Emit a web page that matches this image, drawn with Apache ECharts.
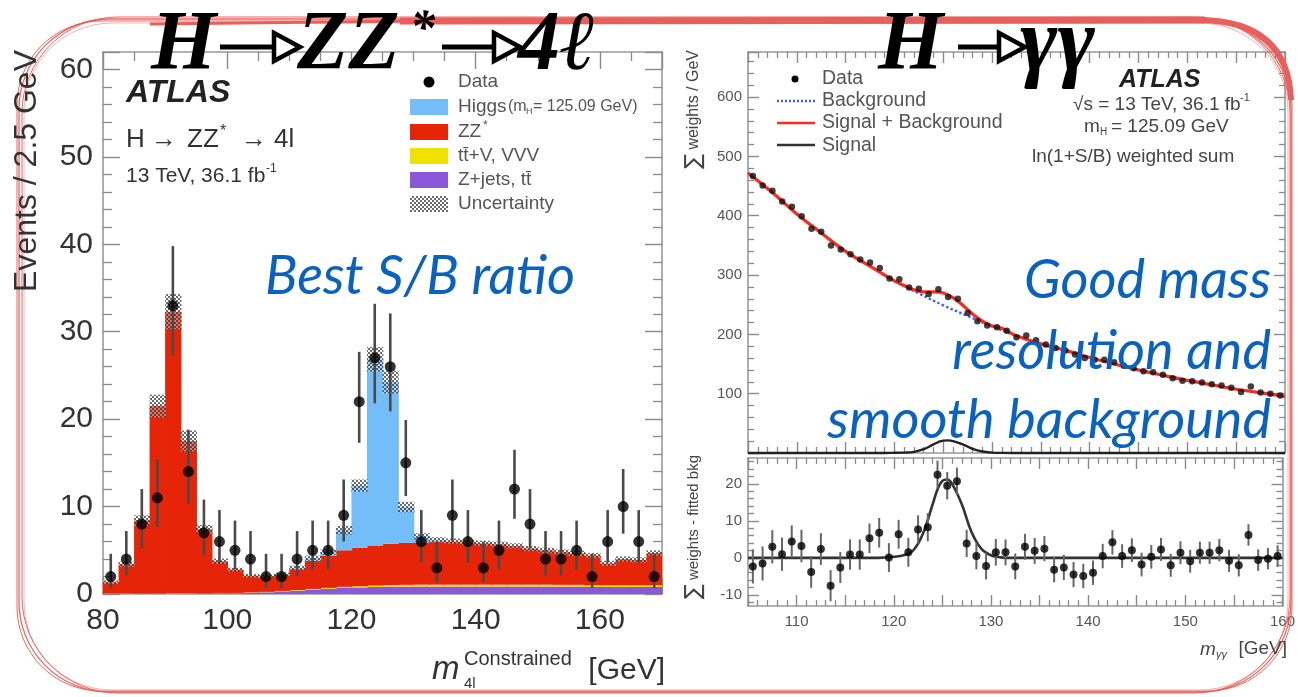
<!DOCTYPE html>
<html><head><meta charset="utf-8">
<script src="https://cdn.jsdelivr.net/npm/echarts/dist/echarts.min.js"></script>
<style>html,body{margin:0;padding:0;background:#fff;}#c{width:1298px;height:697px;}</style>
</head><body><div id="c"></div>
<script>
// ---------- H -> ZZ* -> 4l (left) ----------
const binEdges4l = [80,82.5,85,87.5,90,92.5,95,97.5,100,102.5,105,107.5,110,112.5,115,117.5,120,122.5,125,127.5,130,132.5,135,137.5,140,142.5,145,147.5,150,152.5,155,157.5,160,162.5,165,167.5,170];
const data4l  = [2,4,8,11,33,14,7,6,5,4,2,2,4,5,5,9,22,27,26,15,6,3,9,6,3,5,12,8,4,4,5,2,6,10,6,2];
const errLo4l = [1.3,1.9,2.8,3.3,5.7,3.7,2.6,2.4,2.2,1.9,1.3,1.3,1.9,2.2,2.2,3.0,4.7,5.2,5.1,3.8,2.4,1.6,3.0,2.4,1.6,2.2,3.4,2.8,1.9,1.9,2.2,1.3,2.4,3.1,2.4,1.3];
const errHi4l = [2.6,3.2,4.0,4.4,6.8,4.8,3.8,3.6,3.4,3.2,2.6,2.6,3.2,3.4,3.4,4.1,5.7,6.2,6.1,4.9,3.6,3.0,4.1,3.6,3.0,3.4,4.5,4.0,3.2,3.2,3.4,2.6,3.6,4.3,3.6,2.6];
const zjets4l = [0.05,0.05,0.05,0.05,0.05,0.05,0.05,0.1,0.1,0.15,0.2,0.3,0.4,0.5,0.6,0.7,0.75,0.8,0.85,0.85,0.85,0.85,0.85,0.85,0.85,0.85,0.85,0.85,0.85,0.85,0.85,0.8,0.8,0.8,0.8,0.8];
const ttv4l   = [0.02,0.02,0.02,0.02,0.05,0.03,0.02,0.02,0.02,0.03,0.04,0.05,0.06,0.08,0.1,0.12,0.14,0.16,0.18,0.2,0.22,0.22,0.22,0.22,0.22,0.22,0.22,0.22,0.22,0.2,0.2,0.2,0.2,0.2,0.2,0.2];
const zz4l    = [1.28,3.33,8.33,21.43,32.2,17.42,7.33,3.63,2.68,1.92,1.76,1.85,2.44,3.22,3.7,4.18,4.41,4.59,4.72,4.8,4.83,4.93,4.93,4.83,4.73,4.63,4.43,4.13,3.93,3.75,3.6,3.4,2.5,3.0,2.9,3.7];
const higgs4l = [0,0,0,0,0,0,0,0,0,0,0,0.05,0.1,0.3,0.4,2.3,7.1,21.3,18.5,4.1,0.7,0.2,0.05,0,0,0,0,0,0,0,0,0,0,0,0,0];
const unc4l   = [0.2,0.3,0.6,1.3,2.0,1.2,0.5,0.3,0.2,0.2,0.2,0.2,0.25,0.3,0.3,0.5,0.7,1.4,1.3,0.6,0.35,0.3,0.3,0.3,0.3,0.3,0.3,0.3,0.3,0.3,0.3,0.3,0.3,0.3,0.3,0.3];
const xTicks4l = [80,100,120,140,160];
const yTicks4l = [0,10,20,30,40,50,60];

// ---------- H -> gamma gamma (right) ----------
const mgg = [105.5,106.5,107.5,108.5,109.5,110.5,111.5,112.5,113.5,114.5,115.5,116.5,117.5,118.5,119.5,120.5,121.5,122.5,123.5,124.5,125.5,126.5,127.5,128.5,129.5,130.5,131.5,132.5,133.5,134.5,135.5,136.5,137.5,138.5,139.5,140.5,141.5,142.5,143.5,144.5,145.5,146.5,147.5,148.5,149.5,150.5,151.5,152.5,153.5,154.5,155.5,156.5,157.5,158.5,159.5];
const sumw = [467,451,442,424,415,399,378,373,350,343,335,326,321,312,294,293,279,277,268,276,263,260,236,222,215,212,206,195,198,190,183,177,173,166,160,157,157,153,147,143,138,136,132,126,122,121,119,116,114,110,103,112,102,100,97];
const resid = [-2.3,-1.5,3.0,1.0,4.4,3.2,-3.8,2.4,-7.5,-2.6,0.9,0.9,5.3,6.8,0.1,6.4,1.5,7.7,8.3,22.5,19.5,20.7,3.9,0.5,-2.2,1.5,1.5,-2.3,3.0,1.9,2.5,-3.2,-2.6,-4.5,-4.9,-4.0,0.5,4.2,0.5,2.1,-1.8,0.3,2.3,-2.0,1.4,-0.9,1.4,1.4,2.1,-0.8,-2.0,6.2,-0.6,-0.2,0.5];
const residErr = [4.6,4.6,4.5,4.5,4.4,4.4,4.3,4.3,4.2,4.2,4.1,4.1,4.0,4.0,3.9,3.9,3.9,3.8,3.8,3.8,3.7,3.7,3.7,3.6,3.6,3.6,3.5,3.5,3.5,3.5,3.4,3.4,3.4,3.4,3.3,3.3,3.3,3.3,3.2,3.2,3.2,3.2,3.1,3.1,3.1,3.1,3.0,3.0,3.0,3.0,3.0,2.9,2.9,2.9,2.9];
const bkgX = [105,107.5,110,112.5,115,117.5,120,122.5,125,127.5,130,132.5,135,137.5,140,142.5,145,147.5,150,152.5,155,157.5,160];
const bkgY = [472,439,403,371,340,315,290,269,249,231,213.5,197.5,184,173,161,150,140,131,122.5,115,107.5,101.5,95.5];
const sbX = [105,107.5,110,112.5,115,117.5,120,121,122,123,124,125,126,127,128,129,130,131,132.5,135,137.5,140,142.5,145,147.5,150,152.5,155,157.5,160];
const sbY = [472,439,403,371,340,315,290.3,282.3,275.2,271.6,271.5,269.8,261.8,249.1,234.3,222.5,214.2,210.4,197.5,184,173,161,150,140,131,122.5,115,107.5,101.5,95.5];
const sigX = [105,118,119,120,121,122,123,124,124.5,125,125.5,126,127,128,129,130,131,132,160];
const sigY = [0,0,0.1,0.3,0.7,2.0,6.5,14.5,18.5,20.8,21.2,20,14.5,7,2.5,0.7,0.15,0,0];
const yLabelsLow = [-10,0,10,20];
const yMinorLow = [-12,-8,-6,-4,-2,2,4,6,8,12,14,16,18,22,24,26];

// ---------- build tables ----------
const hatchCanvas = document.createElement('canvas');
hatchCanvas.width = 4; hatchCanvas.height = 4;
(function(){const g=hatchCanvas.getContext('2d');g.fillStyle='rgba(70,70,70,0.8)';g.fillRect(0,0,2,2);g.fillRect(2,2,2,2);g.fillStyle='rgba(255,255,255,0.35)';g.fillRect(2,0,2,2);g.fillRect(0,2,2,2);})();
const hatch = {image: hatchCanvas, repeat: 'repeat'};

const comps = [zjets4l, ttv4l, zz4l, higgs4l];
const compColors = ['#8a58d8','#efe200','#e62408','#73bdf8'];
const stacks = comps.map(()=>[]);
const uncRows = [], ptRows = [], errRows = [];
for (let i=0;i<data4l.length;i++){
  let base=0;
  comps.forEach((c,k)=>{ stacks[k].push([binEdges4l[i], binEdges4l[i+1], base, base+c[i]]); base+=c[i]; });
  uncRows.push([binEdges4l[i], binEdges4l[i+1], base-unc4l[i], base+unc4l[i]]);
  const xc=(binEdges4l[i]+binEdges4l[i+1])/2;
  ptRows.push([xc, data4l[i]]);
  errRows.push([xc, data4l[i]-errLo4l[i], data4l[i]+errHi4l[i]]);
}
const ggPts = mgg.map((m,i)=>[m,sumw[i]]);
const resPts = mgg.map((m,i)=>[m,resid[i]]);
const resErr = mgg.map((m,i)=>[m,resid[i]-residErr[i],resid[i]+residErr[i]]);
const bkgLine = bkgX.map((x,i)=>[x,bkgY[i]]);
const sbLine = sbX.map((x,i)=>[x,sbY[i]]);
const sigLine = sigX.map((x,i)=>[x,sigY[i]]);

function rectRender(fill){
  return function(params, api){
    const x0=api.value(0), x1=api.value(1), b=api.value(2), t=api.value(3);
    if(!(t>b)) return null;
    const p0=api.coord([x0,b]), p1=api.coord([x1,t]);
    return {type:'rect', shape:{x:p0[0], y:p1[1], width:(p1[0]-p0[0])+0.8, height:p0[1]-p1[1]}, style:{fill:fill}};
  };
}
function errRender(color,width){
  return function(params, api){
    const x=api.value(0), lo=api.value(1), hi=api.value(2);
    const a=api.coord([x,lo]), b=api.coord([x,hi]);
    return {type:'line', shape:{x1:a[0],y1:a[1],x2:b[0],y2:b[1]}, style:{stroke:color, lineWidth:width}};
  };
}

const AX = '#999', TK = '#8a8a8a', LBL = '#333', FF = '"Liberation Sans", Arial, sans-serif';
function ax(o){
  return Object.assign({type:'value', splitLine:{show:false},
    axisLine:{show:true, onZero:false, lineStyle:{color:AX, width:1.6}},
    axisTick:{show:true, inside:true, length:o.tl||11, lineStyle:{color:TK, width:1.4}},
    minorTick:{show:o.ms!==undefined, splitNumber:o.ms||5, length:o.ml||6, lineStyle:{color:TK, width:1.3}},
    axisLabel:{show:false}}, o.base);
}
function lbl(size, extra){ return Object.assign({show:true, fontSize:size, color:LBL, fontFamily:FF}, extra||{}); }

const xAxis = [
  ax({base:{gridIndex:0, min:80, max:170, interval:20, position:'bottom'}, tl:17, ms:4, ml:9}),
  ax({base:{gridIndex:0, min:80, max:170, interval:20, position:'top'}, tl:17, ms:4, ml:9}),
  ax({base:{gridIndex:1, min:105, max:160, interval:5, position:'bottom'}, tl:11, ms:5, ml:6}),
  ax({base:{gridIndex:1, min:105, max:160, interval:5, position:'top'}, tl:11, ms:5, ml:6}),
  ax({base:{gridIndex:2, min:105, max:160, interval:5, position:'bottom'}, tl:11, ms:5, ml:6}),
  ax({base:{gridIndex:2, min:105, max:160, interval:5, position:'top'}, tl:11, ms:5, ml:6})
];
xAxis[0].axisLabel = lbl(30, {margin:12, customValues: xTicks4l});
xAxis[4].axisLabel = lbl(15, {margin:8, color:'#555', formatter:(v)=> (v%10===0 ? String(v) : '')});

const yAxis = [
  ax({base:{gridIndex:0, min:0, max:62, interval:10, position:'left'}, tl:17, ms:5, ml:9}),
  ax({base:{gridIndex:0, min:0, max:62, interval:10, position:'right'}, tl:17, ms:5, ml:9}),
  ax({base:{gridIndex:1, min:0, max:676, interval:100, position:'left'}, tl:11, ms:5, ml:6}),
  ax({base:{gridIndex:1, min:0, max:676, interval:100, position:'right'}, tl:11, ms:5, ml:6}),
  ax({base:{gridIndex:2, min:-13, max:27, position:'left'}, tl:11}),
  ax({base:{gridIndex:2, min:-13, max:27, position:'right'}, tl:11}),
  ax({base:{gridIndex:2, min:-13, max:27, position:'left'}, tl:6}),
  ax({base:{gridIndex:2, min:-13, max:27, position:'right'}, tl:6})
];
yAxis[0].axisLabel = lbl(30, {margin:10, customValues: yTicks4l});
yAxis[2].axisLabel = lbl(15, {margin:6, color:'#555', showMinLabel:false, showMaxLabel:false, formatter:(v)=> (v%100===0 && v>0 ? String(v) : '')});
yAxis[4].axisLabel = lbl(15, {margin:6, color:'#555', customValues: yLabelsLow});
[4,5].forEach(i=>{ yAxis[i].axisTick.customValues = yLabelsLow; });
[6,7].forEach(i=>{ yAxis[i].axisTick.customValues = yMinorLow; yAxis[i].axisLine = {show:false}; });

const series = [];
comps.forEach((c,k)=>{
  series.push({type:'custom', xAxisIndex:0, yAxisIndex:0, clip:true, renderItem:rectRender(compColors[k]), data:stacks[k], encode:{x:[0,1], y:[2,3]}, z:2});
});
series.push({type:'custom', xAxisIndex:0, yAxisIndex:0, clip:true, renderItem:rectRender(hatch), data:uncRows, encode:{x:[0,1], y:[2,3]}, z:3});
series.push({type:'custom', xAxisIndex:0, yAxisIndex:0, clip:true, renderItem:errRender('#4a4a4a',2.6), data:errRows, encode:{x:0, y:[1,2]}, z:4});
series.push({type:'scatter', xAxisIndex:0, yAxisIndex:0, data:ptRows, symbol:'circle', symbolSize:11, itemStyle:{color:'#000'}, z:5});
// right upper
series.push({type:'line', xAxisIndex:2, yAxisIndex:2, data:bkgLine, smooth:0.4, showSymbol:false, symbol:'none', lineStyle:{color:'#3d5cff', width:2.4, type:'dotted'}, z:3});
series.push({type:'line', xAxisIndex:2, yAxisIndex:2, data:sbLine, smooth:0.4, showSymbol:false, symbol:'none', lineStyle:{color:'#ff2a1e', width:3.2}, z:4});
series.push({type:'line', xAxisIndex:2, yAxisIndex:2, data:sigLine, smooth:0.4, showSymbol:false, symbol:'none', lineStyle:{color:'#222', width:2.4}, z:4, clip:false});
series.push({type:'scatter', xAxisIndex:2, yAxisIndex:2, data:ggPts, symbol:'circle', symbolSize:6.5, itemStyle:{color:'#111'}, z:5});
// right lower
series.push({type:'line', xAxisIndex:4, yAxisIndex:4, data:sigLine, smooth:0.4, showSymbol:false, symbol:'none', lineStyle:{color:'#333', width:2.6}, z:3});
series.push({type:'custom', xAxisIndex:4, yAxisIndex:4, clip:true, renderItem:errRender('#666',2), data:resErr, encode:{x:0, y:[1,2]}, z:4});
series.push({type:'scatter', xAxisIndex:4, yAxisIndex:4, data:resPts, symbol:'circle', symbolSize:8, itemStyle:{color:'#000'}, z:5});

// ---------- graphic texts ----------
const SERIF = 'italic bold 84px "Liberation Serif", "Times New Roman", serif';
const BLUE = '#0a62c0';
const BLUEF = 'italic 54px Lato, "Open Sans", sans-serif';
function T(x,y,text,font,fill,align,extra){ return Object.assign({type:'text', z:100, style:{x:x, y:y, text:text, font:font, fill:fill||'#000', align:align||'left', verticalAlign:'middle'}}, extra||{}); }
function arrow(x0,x1,y){
  return [
    {type:'line', z:100, shape:{x1:x0, y1:y, x2:x1-24, y2:y}, style:{stroke:'#000', lineWidth:5}},
    {type:'polygon', z:101, shape:{points:[[x1-26,y-14],[x1,y],[x1-26,y+14]]}, style:{fill:'#fff', stroke:'#000', lineWidth:4.5, lineJoin:'miter'}}
  ];
}
const RED = 'rgba(232,88,82,0.9)';
const els = [
  // sketchy frame
  {type:'rect', z:90, shape:{x:19, y:19, width:1272, height:673, r:90}, style:{fill:'none', stroke:RED, lineWidth:1.3}},
  {type:'rect', z:90, shape:{x:22, y:17, width:1268, height:676, r:96}, style:{fill:'none', stroke:RED, lineWidth:1}},
  {type:'rect', z:90, shape:{x:17, y:21, width:1275, height:670, r:84}, style:{fill:'none', stroke:RED, lineWidth:1}},
  {type:'rect', z:90, shape:{x:24, y:23, width:1264, height:667, r:88}, style:{fill:'none', stroke:'rgba(232,88,82,0.6)', lineWidth:0.8}},
  {type:'line', z:91, shape:{x1:400, y1:21, x2:1205, y2:20}, style:{stroke:'#e8605c', lineWidth:7}},
  {type:'bezierCurve', z:91, shape:{x1:1200, y1:20, cpx1:1288, cpy1:21, x2:1291, y2:100}, style:{fill:'none', stroke:'#e8605c', lineWidth:6}},
  {type:'line', z:91, shape:{x1:150, y1:24, x2:420, y2:21}, style:{stroke:'#e8605c', lineWidth:3}},
  // big titles
  T(151,47,'H',SERIF),
  ...arrow(220,300,47),
  T(297,47,'ZZ',SERIF),
  T(410,31,'*','italic bold 50px "Liberation Serif", serif'),
  ...arrow(442,520,47),
  T(518,47,'4ℓ',SERIF),
  T(878,47,'H',SERIF),
  ...arrow(958,1025,47),
  T(1020,47,'γγ','italic bold 90px "Liberation Serif", serif'),
  // blue annotations
  T(265,277,'Best S/B ratio',BLUEF,BLUE),
  T(1271,281,'Good mass',BLUEF,BLUE,'right'),
  T(1271,352,'resolution and',BLUEF,BLUE,'right'),
  T(1271,421,'smooth background',BLUEF,BLUE,'right'),
  // left plot labels
  T(126,93,'ATLAS','italic bold 32px '+FF,'#222'),
  T(126,140,'H','26px '+FF,'#333'),
  T(151,140,'→','26px '+FF,'#333'),
  T(187,140,'ZZ','26px '+FF,'#333'),
  T(220,132,'*','16px '+FF,'#333'),
  T(241,140,'→','26px '+FF,'#333'),
  T(274,140,'4l','26px '+FF,'#333'),
  T(126,176,'13 TeV, 36.1 fb','21px '+FF,'#333'),
  T(266,169,'-1','12px '+FF,'#333'),
  // left legend
  {type:'circle', z:100, shape:{cx:429, cy:82, r:5.5}, style:{fill:'#000'}},
  T(458,82,'Data','19px '+FF,'#555'),
  {type:'rect', z:100, shape:{x:410, y:99, width:38, height:16}, style:{fill:'#73bdf8'}},
  T(458,107,'Higgs','19px '+FF,'#555'),
  T(508,107,'(m','16px '+FF,'#555'),
  T(526,112,'H','9px '+FF,'#555'),
  T(533,107,'= 125.09 GeV)','16px '+FF,'#555'),
  {type:'rect', z:100, shape:{x:410, y:124, width:38, height:16}, style:{fill:'#e62408'}},
  T(458,132,'ZZ','19px '+FF,'#555'),
  T(483,126,'*','12px '+FF,'#555'),
  {type:'rect', z:100, shape:{x:410, y:148, width:38, height:16}, style:{fill:'#efe200'}},
  T(458,156,'tt̄+V, VVV','19px '+FF,'#555'),
  {type:'rect', z:100, shape:{x:410, y:172, width:38, height:16}, style:{fill:'#8a58d8'}},
  T(458,180,'Z+jets, tt̄','19px '+FF,'#555'),
  {type:'rect', z:100, shape:{x:410, y:196, width:38, height:16}, style:{fill:hatch}},
  T(458,204,'Uncertainty','19px '+FF,'#555'),
  // left axis titles
  {type:'text', z:100, x:27, y:50, rotation:Math.PI/2, style:{x:0, y:0, text:'Events / 2.5 GeV', font:'32px '+FF, fill:'#333', align:'right', verticalAlign:'middle'}},
  T(432,670,'m','italic 33px '+FF,'#333'),
  T(464,659,'Constrained','20px '+FF,'#333'),
  T(464,684,'4l','15px '+FF,'#333'),
  T(665,671,'[GeV]','30px '+FF,'#333','right'),
  // right plot labels
  {type:'circle', z:100, shape:{cx:795, cy:79, r:3.5}, style:{fill:'#000'}},
  T(822,79,'Data','19.5px '+FF,'#555'),
  {type:'line', z:100, shape:{x1:777,y1:101,x2:815,y2:101}, style:{stroke:'#3d5cff', lineWidth:2.4, lineDash:[2,2]}},
  T(822,101,'Background','19.5px '+FF,'#555'),
  {type:'line', z:100, shape:{x1:777,y1:123,x2:815,y2:123}, style:{stroke:'#ff2a1e', lineWidth:2.6}},
  T(822,123,'Signal + Background','19.5px '+FF,'#555'),
  {type:'line', z:100, shape:{x1:777,y1:145,x2:815,y2:145}, style:{stroke:'#333', lineWidth:2.6}},
  T(822,146,'Signal','19.5px '+FF,'#555'),
  T(1119,80,'ATLAS','italic bold 25px '+FF,'#222'),
  T(1073,105,'√s = 13 TeV, 36.1 fb','19px '+FF,'#444'),
  T(1240,98,'-1','11px '+FF,'#444'),
  T(1084,127,'m','19px '+FF,'#444'),
  T(1100,132,'H','10px '+FF,'#444'),
  T(1111,127,'= 125.09 GeV','19px '+FF,'#444'),
  T(1032,157,'ln(1+S/B) weighted sum','19px '+FF,'#444'),
  {type:'text', z:100, x:694, y:50, rotation:Math.PI/2, style:{x:0, y:0, text:'{s|∑} {a|weights / GeV}', font:'16px '+FF, fill:'#444', align:'right', verticalAlign:'middle', rich:{a:{font:'16px '+FF, fill:'#444'}, s:{font:'22px "DejaVu Sans"', fill:'#444'}}}},
  {type:'text', z:100, x:694, y:455, rotation:Math.PI/2, style:{x:0, y:0, text:'{s|∑} {a|weights - fitted bkg}', font:'15px '+FF, fill:'#444', align:'right', verticalAlign:'middle', rich:{a:{font:'15px '+FF, fill:'#444'}, s:{font:'22px "DejaVu Sans"', fill:'#444'}}}},
  T(1200,650,'m','italic 19px '+FF,'#444'),
  T(1216,655,'γγ','italic 11px '+FF,'#444'),
  T(1287,649,'[GeV]','19px '+FF,'#444','right')
];

const chart = echarts.init(document.getElementById('c'), null, {renderer:'canvas'});
chart.setOption({
  animation:false,
  backgroundColor:'#fff',
  grid:[
    {left:103, top:52, width:559, height:542},
    {left:748, top:52, width:537, height:401},
    {left:748, top:458, width:537, height:148}
  ],
  xAxis:xAxis, yAxis:yAxis, series:series,
  graphic:{elements:els}
});
</script></body></html>
